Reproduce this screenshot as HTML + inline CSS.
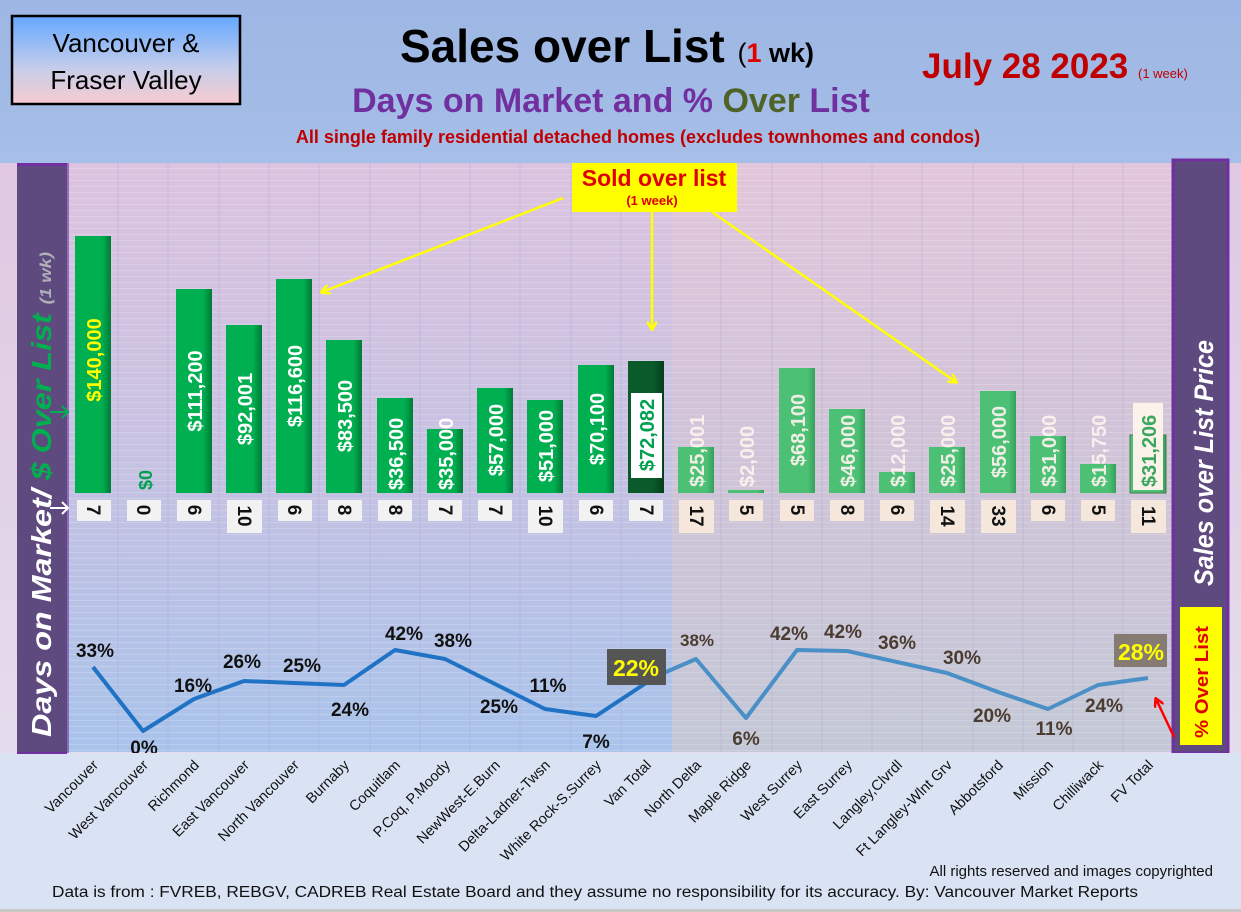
<!DOCTYPE html>
<html><head><meta charset="utf-8"><style>
html,body{margin:0;padding:0;width:1241px;height:912px;overflow:hidden;background:#fff}
svg{display:block}
text{font-family:"Liberation Sans Narrow","Liberation Sans",sans-serif}
.b{font-weight:bold}
</style></head><body>
<svg width="1241" height="912" viewBox="0 0 1241 912" xmlns="http://www.w3.org/2000/svg">
<defs>
<linearGradient id="hdr" x1="0" y1="0" x2="0" y2="1"><stop offset="0" stop-color="#9db6e3"/><stop offset="1" stop-color="#a6bfe8"/></linearGradient>
<linearGradient id="tbox" x1="0" y1="0" x2="0" y2="1"><stop offset="0" stop-color="#64a8ff"/><stop offset="0.6" stop-color="#c6cdea"/><stop offset="1" stop-color="#f8ccd0"/></linearGradient>
<linearGradient id="plotL" x1="0" y1="0" x2="0" y2="1"><stop offset="0" stop-color="#dcc3df"/><stop offset="0.5" stop-color="#c7c2e2"/><stop offset="1" stop-color="#a9c3ea"/></linearGradient>
<linearGradient id="plotR" x1="0" y1="0" x2="0" y2="1"><stop offset="0" stop-color="#e2c6db"/><stop offset="0.5" stop-color="#d0c4d8"/><stop offset="1" stop-color="#c4c8d6"/></linearGradient>
<linearGradient id="side" x1="0" y1="0" x2="0" y2="1"><stop offset="0" stop-color="#e0c8e2"/><stop offset="1" stop-color="#e4dcec"/></linearGradient>
<linearGradient id="gbar" x1="0" y1="0" x2="1" y2="0"><stop offset="0" stop-color="#00b050"/><stop offset="0.75" stop-color="#00b050"/><stop offset="1" stop-color="#007a37"/></linearGradient>
<linearGradient id="gbar2" x1="0" y1="0" x2="1" y2="0"><stop offset="0" stop-color="#4cc074"/><stop offset="0.8" stop-color="#4cc074"/><stop offset="1" stop-color="#35a05a"/></linearGradient>
<linearGradient id="dbar" x1="0" y1="0" x2="1" y2="0"><stop offset="0" stop-color="#0b5a2b"/><stop offset="0.7" stop-color="#0b5a2b"/><stop offset="1" stop-color="#043d1a"/></linearGradient>
<marker id="ay" markerWidth="10" markerHeight="10" refX="8" refY="5" orient="auto" markerUnits="userSpaceOnUse"><path d="M0,0 L9,5 L0,10" fill="none" stroke="#ffff00" stroke-width="2.5"/></marker>
<marker id="ar" markerWidth="10" markerHeight="10" refX="8" refY="5" orient="auto" markerUnits="userSpaceOnUse"><path d="M0,0 L9,5 L0,10" fill="none" stroke="#ff0000" stroke-width="2.5"/></marker>
<pattern id="hl" width="10" height="6" patternUnits="userSpaceOnUse"><line x1="0" y1="0.5" x2="10" y2="0.5" stroke="#ffffff" stroke-opacity="0.18" stroke-width="1"/></pattern>
</defs>

<rect x="0" y="0" width="1241" height="163" fill="url(#hdr)"/>
<rect x="12" y="16" width="228" height="88" fill="url(#tbox)" stroke="#000" stroke-width="2.5"/>
<text x="126" y="52" font-size="26" text-anchor="middle" fill="#000">Vancouver &amp;</text>
<text x="126" y="89" font-size="26" text-anchor="middle" fill="#000">Fraser Valley</text>
<text x="400" y="62" font-size="46" class="b" fill="#000">Sales over List <tspan font-size="27" font-weight="normal">(</tspan><tspan font-size="27" fill="#e00000">1</tspan><tspan font-size="27"> wk)</tspan></text>
<text x="922" y="78" font-size="35" class="b" fill="#c00000">July 28  2023 <tspan font-size="13" font-weight="normal">(1 week)</tspan></text>
<text x="611" y="112" font-size="34" class="b" text-anchor="middle" fill="#7030a0">Days on Market and % <tspan fill="#4f6228">Over</tspan> List</text>
<text x="638" y="143" font-size="18" class="b" text-anchor="middle" fill="#c00000">All single family residential detached homes (excludes townhomes and condos)</text>

<rect x="0" y="163" width="1241" height="590" fill="url(#side)"/>
<rect x="67" y="163" width="605" height="589" fill="url(#plotL)"/>
<rect x="672" y="163" width="501" height="589" fill="url(#plotR)"/>
<rect x="67" y="163" width="1106" height="589" fill="url(#hl)"/>
<g stroke="#b0a8d8" stroke-opacity="0.45" stroke-width="1">
<line x1="118" y1="163" x2="118" y2="752"/><line x1="168" y1="163" x2="168" y2="752"/><line x1="219" y1="163" x2="219" y2="752"/><line x1="269" y1="163" x2="269" y2="752"/><line x1="319" y1="163" x2="319" y2="752"/><line x1="370" y1="163" x2="370" y2="752"/><line x1="420" y1="163" x2="420" y2="752"/><line x1="470" y1="163" x2="470" y2="752"/><line x1="520" y1="163" x2="520" y2="752"/><line x1="571" y1="163" x2="571" y2="752"/><line x1="621" y1="163" x2="621" y2="752"/><line x1="721" y1="163" x2="721" y2="752"/><line x1="772" y1="163" x2="772" y2="752"/><line x1="822" y1="163" x2="822" y2="752"/><line x1="872" y1="163" x2="872" y2="752"/><line x1="922" y1="163" x2="922" y2="752"/><line x1="973" y1="163" x2="973" y2="752"/><line x1="1023" y1="163" x2="1023" y2="752"/><line x1="1073" y1="163" x2="1073" y2="752"/><line x1="1123" y1="163" x2="1123" y2="752"/>
</g>

<rect x="17" y="163" width="50" height="590" fill="#5e4a7e"/>
<rect x="17" y="163" width="50" height="3" fill="#7030a0"/>
<rect x="67" y="163" width="2" height="590" fill="#7030a0" opacity="0.6"/>
<text transform="translate(51,737) rotate(-90)" font-size="28" class="b" font-style="italic" fill="#fff" textLength="485" lengthAdjust="spacingAndGlyphs">Days on Market/ <tspan fill="#00b050">$ Over List</tspan> <tspan font-size="16" fill="#b0b0b8">(1 wk)</tspan></text>
<path d="M50,412 L68,412 M62,406 L68,412 L62,418" stroke="#00b050" stroke-width="2" fill="none"/>
<path d="M50,508 L68,508 M62,502 L68,508 L62,514" stroke="#fff" stroke-width="2" fill="none"/>
<rect x="1173" y="160" width="55" height="593" fill="#5e4a7e" stroke="#7030a0" stroke-width="3"/>
<text transform="translate(1213,586) rotate(-90)" font-size="27" class="b" font-style="italic" fill="#fff" textLength="246" lengthAdjust="spacingAndGlyphs">Sales over List Price</text>
<rect x="1180" y="607" width="42" height="138" fill="#ffff00"/>
<text transform="translate(1208,738) rotate(-90)" font-size="18" class="b" fill="#e00000" textLength="112" lengthAdjust="spacingAndGlyphs">% Over List</text>

<g>
<rect x="75" y="236" width="36" height="257" fill="url(#gbar)"/>
<rect x="176" y="289" width="36" height="204" fill="url(#gbar)"/>
<rect x="226" y="325" width="36" height="168" fill="url(#gbar)"/>
<rect x="276" y="279" width="36" height="214" fill="url(#gbar)"/>
<rect x="326" y="340" width="36" height="153" fill="url(#gbar)"/>
<rect x="377" y="398" width="36" height="95" fill="url(#gbar)"/>
<rect x="427" y="429" width="36" height="64" fill="url(#gbar)"/>
<rect x="477" y="388" width="36" height="105" fill="url(#gbar)"/>
<rect x="527" y="400" width="36" height="93" fill="url(#gbar)"/>
<rect x="578" y="365" width="36" height="128" fill="url(#gbar)"/>
<rect x="628" y="361" width="36" height="132" fill="url(#dbar)"/>
<rect x="678" y="447" width="36" height="46" fill="url(#gbar2)"/>
<rect x="728" y="490" width="36" height="3" fill="url(#gbar2)"/>
<rect x="779" y="368" width="36" height="125" fill="url(#gbar2)"/>
<rect x="829" y="409" width="36" height="84" fill="url(#gbar2)"/>
<rect x="879" y="472" width="36" height="21" fill="url(#gbar2)"/>
<rect x="929" y="447" width="36" height="46" fill="url(#gbar2)"/>
<rect x="980" y="391" width="36" height="102" fill="url(#gbar2)"/>
<rect x="1030" y="436" width="36" height="57" fill="url(#gbar2)"/>
<rect x="1080" y="464" width="36" height="29" fill="url(#gbar2)"/>
<rect x="1130" y="435" width="36" height="58" fill="url(#gbar2)" stroke="#4a7a4a" stroke-width="1"/>
<rect x="631" y="393" width="31" height="85" fill="#fff"/>
<rect x="1133" y="403" width="30" height="87" fill="#fbf3ea"/>
</g>
<g font-size="20" class="b" fill="#fff">
<text transform="translate(101,360) rotate(-90)" text-anchor="middle" fill="#ffff00">$140,000</text>
<text transform="translate(152,490) rotate(-90)" fill="#00a050" font-size="18">$0</text>
<text transform="translate(202,391) rotate(-90)" text-anchor="middle">$111,200</text>
<text transform="translate(252,409) rotate(-90)" text-anchor="middle">$92,001</text>
<text transform="translate(302,386) rotate(-90)" text-anchor="middle">$116,600</text>
<text transform="translate(352,416) rotate(-90)" text-anchor="middle">$83,500</text>
<text transform="translate(403,490) rotate(-90)">$36,500</text>
<text transform="translate(453,490) rotate(-90)">$35,000</text>
<text transform="translate(503,440) rotate(-90)" text-anchor="middle">$57,000</text>
<text transform="translate(553,446) rotate(-90)" text-anchor="middle">$51,000</text>
<text transform="translate(604,429) rotate(-90)" text-anchor="middle">$70,100</text>
<text transform="translate(654,435) rotate(-90)" text-anchor="middle" fill="#00a050">$72,082</text>
<g fill="#fdf2ee" fill-opacity="0.92">
<text transform="translate(704,487) rotate(-90)">$25,001</text>
<text transform="translate(754,487) rotate(-90)">$2,000</text>
<text transform="translate(805,430) rotate(-90)" text-anchor="middle">$68,100</text>
<text transform="translate(855,487) rotate(-90)">$46,000</text>
<text transform="translate(905,487) rotate(-90)">$12,000</text>
<text transform="translate(955,487) rotate(-90)">$25,000</text>
<text transform="translate(1006,442) rotate(-90)" text-anchor="middle">$56,000</text>
<text transform="translate(1056,487) rotate(-90)">$31,000</text>
<text transform="translate(1106,487) rotate(-90)">$15,750</text>
<text transform="translate(1156,487) rotate(-90)" fill="#2aa050">$31,206</text>
</g>
</g>

<g fill="#f2f2f2">
<rect x="77" y="500" width="34" height="21"/><rect x="127" y="500" width="34" height="21"/><rect x="177" y="500" width="34" height="21"/><rect x="227" y="500" width="35" height="33"/><rect x="278" y="500" width="34" height="21"/><rect x="328" y="500" width="34" height="21"/><rect x="378" y="500" width="34" height="21"/><rect x="428" y="500" width="34" height="21"/><rect x="478" y="500" width="34" height="21"/><rect x="528" y="500" width="35" height="33"/><rect x="579" y="500" width="34" height="21"/><rect x="629" y="500" width="34" height="21"/>
</g>
<g fill="#f5e7dc">
<rect x="679" y="500" width="35" height="33"/><rect x="729" y="500" width="34" height="21"/><rect x="780" y="500" width="34" height="21"/><rect x="830" y="500" width="34" height="21"/><rect x="880" y="500" width="34" height="21"/><rect x="930" y="500" width="35" height="33"/><rect x="981" y="500" width="35" height="33"/><rect x="1031" y="500" width="34" height="21"/><rect x="1081" y="500" width="34" height="21"/><rect x="1131" y="500" width="35" height="33"/>
</g>
<g font-size="19" class="b" fill="#111">
<text transform="translate(87,510) rotate(90)" text-anchor="middle">7</text>
<text transform="translate(137,510) rotate(90)" text-anchor="middle">0</text>
<text transform="translate(188,510) rotate(90)" text-anchor="middle">6</text>
<text transform="translate(238,516) rotate(90)" text-anchor="middle">10</text>
<text transform="translate(288,510) rotate(90)" text-anchor="middle">6</text>
<text transform="translate(338,510) rotate(90)" text-anchor="middle">8</text>
<text transform="translate(389,510) rotate(90)" text-anchor="middle">8</text>
<text transform="translate(439,510) rotate(90)" text-anchor="middle">7</text>
<text transform="translate(489,510) rotate(90)" text-anchor="middle">7</text>
<text transform="translate(539,516) rotate(90)" text-anchor="middle">10</text>
<text transform="translate(590,510) rotate(90)" text-anchor="middle">6</text>
<text transform="translate(640,510) rotate(90)" text-anchor="middle">7</text>
<text transform="translate(690,516) rotate(90)" text-anchor="middle">17</text>
<text transform="translate(740,510) rotate(90)" text-anchor="middle">5</text>
<text transform="translate(791,510) rotate(90)" text-anchor="middle">5</text>
<text transform="translate(841,510) rotate(90)" text-anchor="middle">8</text>
<text transform="translate(891,510) rotate(90)" text-anchor="middle">6</text>
<text transform="translate(941,516) rotate(90)" text-anchor="middle">14</text>
<text transform="translate(992,516) rotate(90)" text-anchor="middle">33</text>
<text transform="translate(1042,510) rotate(90)" text-anchor="middle">6</text>
<text transform="translate(1092,510) rotate(90)" text-anchor="middle">5</text>
<text transform="translate(1142,516) rotate(90)" text-anchor="middle">11</text>
</g>

<line x1="563" y1="198" x2="322" y2="292" stroke="#ffff00" stroke-width="2.5" marker-end="url(#ay)"/>
<line x1="652" y1="212" x2="652" y2="329" stroke="#ffff00" stroke-width="2.5" marker-end="url(#ay)"/>
<line x1="712" y1="212" x2="956" y2="382" stroke="#ffff00" stroke-width="2.5" marker-end="url(#ay)"/>
<rect x="572" y="163" width="165" height="49" fill="#ffff00"/>
<text x="654" y="186" font-size="23" class="b" text-anchor="middle" fill="#e00000">Sold over list</text>
<text x="652" y="205" font-size="13" class="b" text-anchor="middle" fill="#e00000">(1 week)</text>

<polyline points="93,667 143,731 194,699 244,681 294,683 344,685 395,650 445,659 495,684 545,709 596,716 646,683 659,675" fill="none" stroke="#1f72c4" stroke-width="4" stroke-linejoin="round"/>
<polyline points="659,675 696,659 746,718 797,650 847,651 897,662 947,673 998,692 1048,709 1098,685 1148,678" fill="none" stroke="#4a8fc6" stroke-width="4" stroke-linejoin="round"/>
<g font-size="19" class="b" fill="#111" text-anchor="middle">
<text x="95" y="657">33%</text><text x="144" y="754">0%</text><text x="193" y="692">16%</text><text x="242" y="668">26%</text><text x="302" y="672">25%</text><text x="350" y="716">24%</text><text x="404" y="640">42%</text><text x="453" y="647">38%</text><text x="499" y="713">25%</text><text x="548" y="692">11%</text><text x="596" y="748">7%</text>
</g>
<g font-size="19" class="b" fill="#4a3c30" text-anchor="middle">
<text x="697" y="646" font-size="17">38%</text><text x="746" y="745">6%</text><text x="789" y="640">42%</text><text x="843" y="638">42%</text><text x="897" y="649">36%</text><text x="962" y="664">30%</text><text x="992" y="722">20%</text><text x="1054" y="735">11%</text><text x="1104" y="712">24%</text>
</g>
<rect x="607" y="649" width="59" height="36" fill="#555555"/>
<text x="636" y="676" font-size="23" class="b" text-anchor="middle" fill="#ffff00">22%</text>
<rect x="1114" y="634" width="53" height="33" fill="#857b72"/>
<text x="1141" y="660" font-size="23" class="b" text-anchor="middle" fill="#ffff00">28%</text>
<line x1="1174" y1="737" x2="1156" y2="699" stroke="#ff0000" stroke-width="2.5" marker-end="url(#ar)"/>

<rect x="0" y="753" width="1241" height="159" fill="#d9e3f4"/>
<rect x="17" y="752" width="50" height="2" fill="#7030a0"/>
<g font-size="14.5" fill="#111" text-anchor="end">
<text transform="translate(99,766) rotate(-45)">Vancouver</text>
<text transform="translate(149,766) rotate(-45)">West Vancouver</text>
<text transform="translate(200,766) rotate(-45)">Richmond</text>
<text transform="translate(250,766) rotate(-45)">East Vancouver</text>
<text transform="translate(300,766) rotate(-45)">North Vancouver</text>
<text transform="translate(350,766) rotate(-45)">Burnaby</text>
<text transform="translate(401,766) rotate(-45)">Coquitlam</text>
<text transform="translate(451,766) rotate(-45)">P.Coq, P.Moody</text>
<text transform="translate(501,766) rotate(-45)">NewWest-E.Burn</text>
<text transform="translate(551,766) rotate(-45)">Delta-Ladner-Twsn</text>
<text transform="translate(602,766) rotate(-45)">White Rock-S.Surrey</text>
<text transform="translate(652,766) rotate(-45)">Van Total</text>
<text transform="translate(702,766) rotate(-45)">North Delta</text>
<text transform="translate(752,766) rotate(-45)">Maple Ridge</text>
<text transform="translate(803,766) rotate(-45)">West Surrey</text>
<text transform="translate(853,766) rotate(-45)">East Surrey</text>
<text transform="translate(903,766) rotate(-45)">Langley,Clvrdl</text>
<text transform="translate(953,766) rotate(-45)">Ft Langley-Wlnt Grv</text>
<text transform="translate(1004,766) rotate(-45)">Abbotsford</text>
<text transform="translate(1054,766) rotate(-45)">Mission</text>
<text transform="translate(1104,766) rotate(-45)">Chilliwack</text>
<text transform="translate(1154,766) rotate(-45)">FV Total</text>
</g>
<text x="1213" y="876" font-size="15" text-anchor="end" fill="#111">All rights reserved and  images copyrighted</text>
<text x="52" y="897" font-size="15.5" fill="#111" textLength="1086" lengthAdjust="spacingAndGlyphs">Data is from : FVREB, REBGV, CADREB Real Estate Board and they assume no responsibility for its accuracy. By: Vancouver Market Reports</text>
<rect x="0" y="909" width="1241" height="3" fill="#c8c8c8"/>
</svg>
</body></html>
